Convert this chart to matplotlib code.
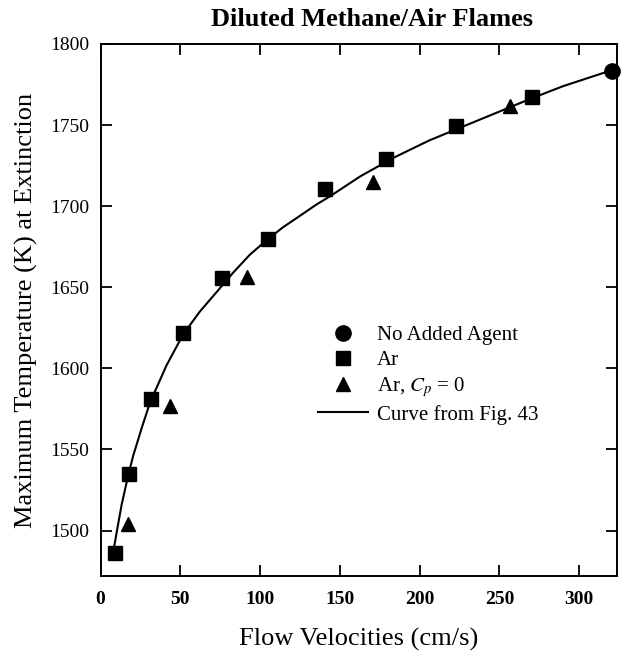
import matplotlib
matplotlib.use("Agg")
import matplotlib.pyplot as plt
from matplotlib.lines import Line2D

# data
no_agent_v = [320.7]
no_agent_t = [1783.6]

ar_v = [9.0, 17.7, 31.3, 51.8, 75.8, 105.0, 140.5, 179.1, 223.0, 270.2]
ar_t = [1486.4, 1535.0, 1581.0, 1622.0, 1655.5, 1679.5, 1710.3, 1729.0, 1749.5, 1767.5]

ar_cp0_v = [17.3, 43.4, 91.5, 170.7, 256.4]
ar_cp0_t = [1504.0, 1576.6, 1656.2, 1715.0, 1762.0]

# "Curve from Fig. 43"
curve_v = [8.5, 11.0, 13.2, 17.3, 20.4, 25.7, 31.0, 41.4, 51.8, 62.2, 72.7, 83.1,
           93.5, 104.0, 114.4, 124.9, 135.3, 143.7, 163.0, 184.0, 206.0, 227.0,
           248.0, 269.0, 290.0, 321.0]
curve_t = [1490, 1504, 1516, 1534, 1546, 1563, 1579, 1602, 1621, 1635, 1647, 1659,
           1670, 1679, 1687, 1694, 1701, 1706, 1718.5, 1730, 1740.5, 1749,
           1757.5, 1766, 1774, 1784]

x_ticks = [0, 50, 100, 150, 200, 250, 300]
y_ticks = [1500, 1550, 1600, 1650, 1700, 1750, 1800]

plt.rcParams['font.family'] = ['Liberation Serif', 'DejaVu Serif']
plt.rcParams['mathtext.fontset'] = 'stix'

fig = plt.figure(figsize=(6.21, 6.53), dpi=100)
ax = fig.add_axes([0.162, 0.118, 0.831, 0.8147])

ax.plot(curve_v, curve_t, color='black', lw=1.5, zorder=2)
ax.plot(ar_v, ar_t, ls='none', marker='s', ms=9.5, color='black', zorder=3)
ax.plot(ar_cp0_v, ar_cp0_t, ls='none', marker='^', ms=10, color='black', zorder=3)
ax.plot(no_agent_v, no_agent_t, ls='none', marker='o', ms=11, color='black',
        zorder=4, clip_on=False)

ax.set_xlim(0, 323.5)
ax.set_ylim(1472, 1800)
ax.set_xticks(x_ticks)
ax.set_yticks(y_ticks)
ax.tick_params(direction='in', length=8, width=1.3, top=True, right=True,
               labelsize=14)
ax.tick_params(axis='x', pad=11)
ax.tick_params(axis='y', pad=8)
for lab in ax.get_xticklabels():
    lab.set_fontweight('bold')
for s in ax.spines.values():
    s.set_linewidth(1.4)

ax.set_xlabel('Flow Velocities (cm/s)', fontsize=19, labelpad=14)
ax.set_ylabel('Maximum Temperature (K) at Extinction', fontsize=19, labelpad=9)
ax.set_title('Diluted Methane/Air Flames', fontsize=19, fontweight='bold',
             pad=13, x=0.526)

handles = [
    Line2D([], [], ls='none', marker='o', ms=11, color='black'),
    Line2D([], [], ls='none', marker='s', ms=9.5, color='black'),
    Line2D([], [], ls='none', marker='^', ms=10, color='black'),
    Line2D([], [], color='black', lw=1.5),
]
labels = ['No Added Agent', 'Ar', r'Ar, $C_p$ = 0', 'Curve from Fig. 43']
ax.legend(handles, labels, loc='upper left', bbox_to_anchor=(0.421, 0.47),
          frameon=False, fontsize=15, handlelength=2.4, handletextpad=0.43,
          labelspacing=0.25, borderpad=0, borderaxespad=0)

fig.savefig('out.png', dpi=100)
